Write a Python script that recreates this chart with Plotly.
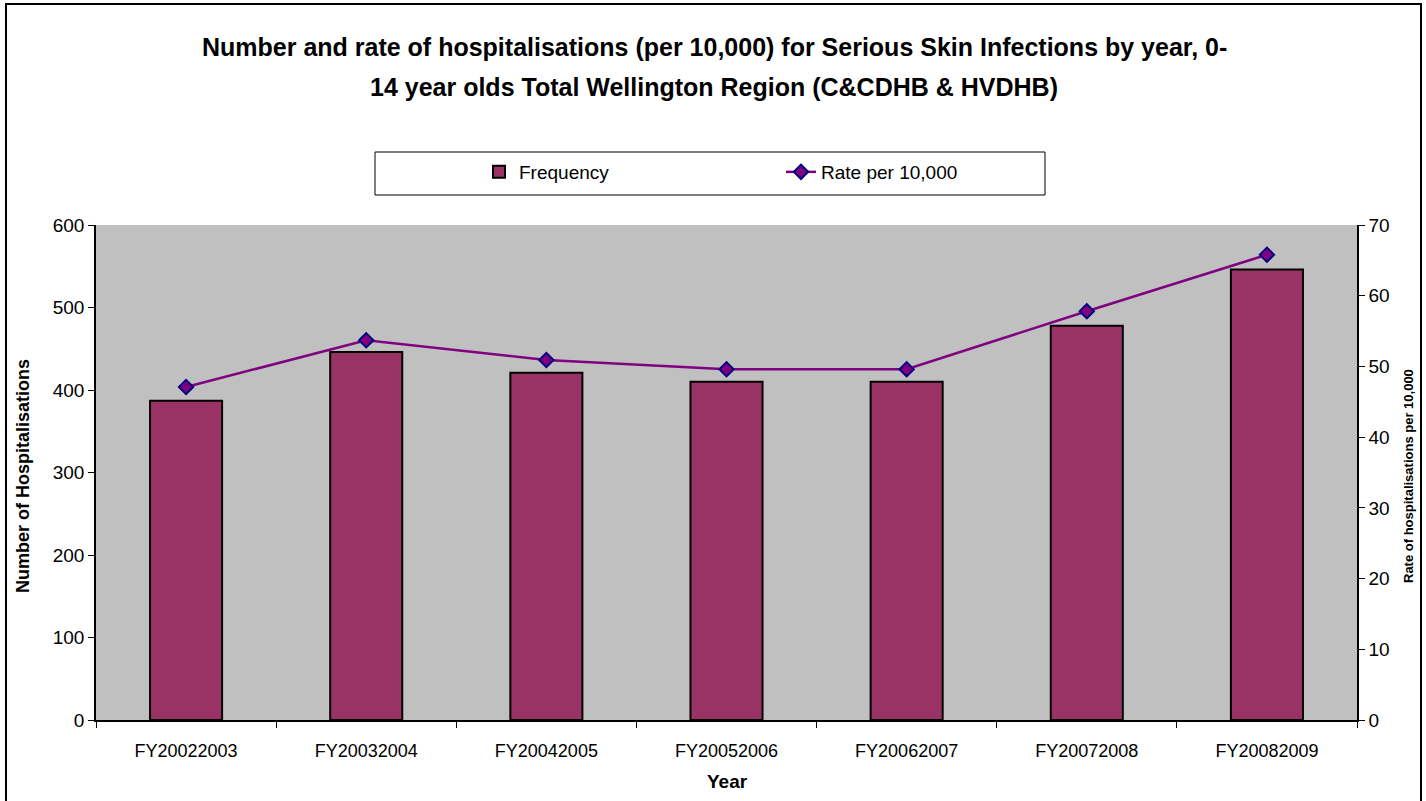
import plotly.graph_objects as go

years = ["FY20022003", "FY20032004", "FY20042005", "FY20052006",
         "FY20062007", "FY20072008", "FY20082009"]
frequency = [387, 446, 421, 410, 410, 478, 546]
rate = [47.1, 53.7, 50.9, 49.6, 49.6, 57.8, 65.8]

W, H = 1426, 801
L, R, T, B = 96, 69, 225, 81
pw, ph = W - L - R, H - T - B

def px(x):
    return (x - L) / pw

def py(y):
    return (H - B - y) / ph

font = "Liberation Sans, Arial, sans-serif"

fig = go.Figure()
fig.add_trace(go.Bar(
    x=years, y=frequency, name="Frequency", width=0.4,
    marker=dict(color="#993366", line=dict(color="#000000", width=2)),
))
fig.add_trace(go.Scatter(
    x=years, y=rate, name="Rate per 10,000", yaxis="y2", mode="lines+markers",
    line=dict(color="#800080", width=2.5),
    marker=dict(symbol="diamond", size=11, color="#800080",
                line=dict(color="#000080", width=2)),
))

fig.update_layout(
    width=W, height=H,
    margin=dict(l=L, r=R, t=T, b=B),
    paper_bgcolor="white", plot_bgcolor="#C0C0C0",
    font=dict(family=font, size=18, color="black"),
    showlegend=True,
    legend=dict(orientation="h", x=px(479), y=py(172), xanchor="left", yanchor="middle",
                bgcolor="rgba(0,0,0,0)", borderwidth=0,
                entrywidth=257, entrywidthmode="pixels",
                font=dict(size=19, family=font, color="black")),
    xaxis=dict(type="category", showgrid=False, showline=True, linecolor="black",
               linewidth=1.5, ticks="outside", ticklen=6, tickcolor="black",
               tickson="boundaries", tickfont=dict(size=18, color="black"),
               ticklabelstandoff=14),
    yaxis=dict(range=[0, 600], dtick=100, showgrid=False, showline=True,
               linecolor="black", linewidth=1.5, ticks="outside", ticklen=6,
               tickcolor="black", zeroline=False, tickfont=dict(size=19, color="black")),
    yaxis2=dict(range=[0, 70], dtick=10, overlaying="y", side="right",
                showgrid=False, showline=True, linecolor="black", linewidth=1.5,
                ticks="outside", ticklen=6, tickcolor="black", zeroline=False,
                tickfont=dict(size=19, color="black")),
    bargap=0.6,
)

annotations = [
    dict(text="<b>Number and rate of hospitalisations (per 10,000) for Serious Skin Infections by year, 0-</b>",
         x=px(W / 2 + 1), y=py(47), xref="paper", yref="paper", showarrow=False,
         font=dict(size=25, family=font), xanchor="center", yanchor="middle"),
    dict(text="<b>14 year olds Total Wellington Region (C&CDHB & HVDHB)</b>",
         x=px(W / 2 + 1), y=py(87), xref="paper", yref="paper", showarrow=False,
         font=dict(size=25, family=font), xanchor="center", yanchor="middle"),
    dict(text="<b>Number of Hospitalisations</b>", textangle=-90,
         x=px(23), y=py(476), xref="paper", yref="paper", showarrow=False,
         font=dict(size=18, family=font), xanchor="center", yanchor="middle"),
    dict(text="<b>Rate of hospitalisations per 10,000</b>", textangle=-90,
         x=px(1408), y=py(476), xref="paper", yref="paper", showarrow=False,
         font=dict(size=13, family=font), xanchor="center", yanchor="middle"),
    dict(text="<b>Year</b>",
         x=px(727), y=py(781), xref="paper", yref="paper", showarrow=False,
         font=dict(size=19, family=font), xanchor="center", yanchor="middle"),
]
fig.update_layout(annotations=annotations)

fig.update_layout(shapes=[
    dict(type="rect", xref="paper", yref="paper",
         x0=px(6), x1=px(1421), y0=py(812), y1=py(4),
         line=dict(color="black", width=2), fillcolor="rgba(0,0,0,0)", layer="below"),
    dict(type="rect", xref="paper", yref="paper",
         x0=px(375), x1=px(1045), y0=py(195), y1=py(152),
         line=dict(color="black", width=1), fillcolor="white", layer="below"),
])

fig.write_html("out.html")
